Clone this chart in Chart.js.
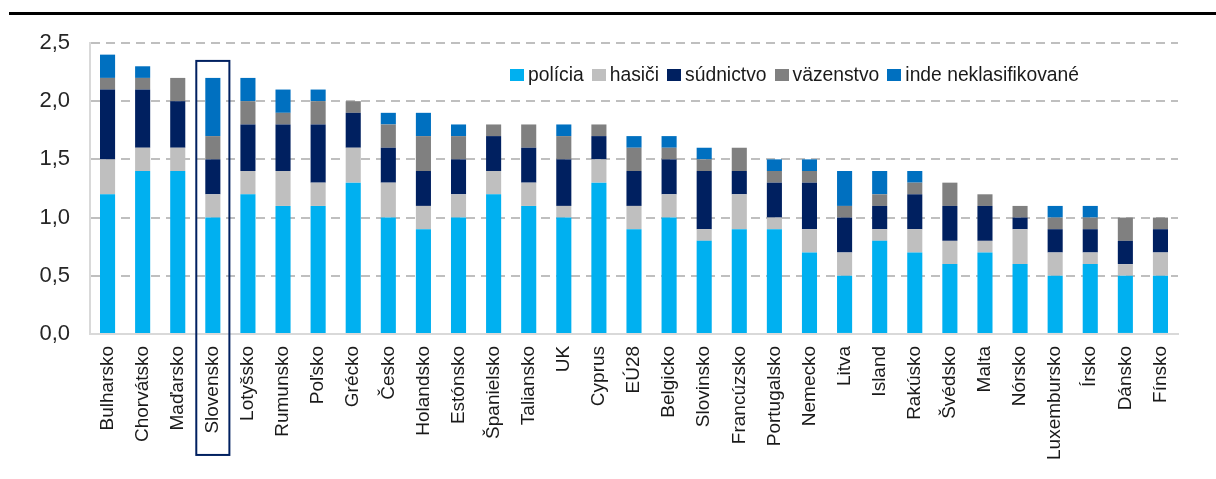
<!DOCTYPE html>
<html>
<head>
<meta charset="utf-8">
<script src="https://cdn.jsdelivr.net/npm/chart.js@4"></script>
<style>
  body { margin: 0; background: #fff; }
  #wrap { position: relative; width: 1216px; height: 479px; overflow: hidden; }
  #topLine { position: absolute; left: 9px; right: 0; top: 12px; height: 3px; background: #000; }
  #chart { position: absolute; left: 0; top: 0; }
  #legend { position: absolute; left: 510px; top: 64px; display: flex; align-items: center;
            font-family: "Liberation Sans", Arial, sans-serif; font-size: 19.3px; color: #1a1a1a; white-space: nowrap; }
  #legend .item { display: flex; align-items: center; margin-right: 8px; }
  #legend .box { width: 14px; height: 12px; margin-right: 4px; }
</style>
</head>
<body>
<div id="wrap">
  <canvas id="chart" width="1216" height="479"></canvas>
  <div id="topLine"></div>
  <div id="legend"></div>
</div>
<script>
// Categories (countries) and stacked series values
const categories = ['Bulharsko', 'Chorvátsko', 'Maďarsko', 'Slovensko', 'Lotyšsko', 'Rumunsko', 'Poľsko',
  'Grécko', 'Česko', 'Holandsko', 'Estónsko', 'Španielsko', 'Taliansko', 'UK', 'Cyprus', 'EÚ28',
  'Belgicko', 'Slovinsko', 'Francúzsko', 'Portugalsko', 'Nemecko', 'Litva', 'Island', 'Rakúsko',
  'Švédsko', 'Malta', 'Nórsko', 'Luxembursko', 'Írsko', 'Dánsko', 'Fínsko'];

const policia   = [1.2, 1.4, 1.4, 1.0, 1.2, 1.1, 1.1, 1.3, 1.0, 0.9, 1.0, 1.2, 1.1, 1.0, 1.3, 0.9, 1.0, 0.8, 0.9, 0.9, 0.7, 0.5, 0.8, 0.7, 0.6, 0.7, 0.6, 0.5, 0.6, 0.5, 0.5];
const hasici    = [0.3, 0.2, 0.2, 0.2, 0.2, 0.3, 0.2, 0.3, 0.3, 0.2, 0.2, 0.2, 0.2, 0.1, 0.2, 0.2, 0.2, 0.1, 0.3, 0.1, 0.2, 0.2, 0.1, 0.2, 0.2, 0.1, 0.3, 0.2, 0.1, 0.1, 0.2];
const sudnictvo = [0.6, 0.5, 0.4, 0.3, 0.4, 0.4, 0.5, 0.3, 0.3, 0.3, 0.3, 0.3, 0.3, 0.4, 0.2, 0.3, 0.3, 0.5, 0.2, 0.3, 0.4, 0.3, 0.2, 0.3, 0.3, 0.3, 0.1, 0.2, 0.2, 0.2, 0.2];
const vazenstvo = [0.1, 0.1, 0.2, 0.2, 0.2, 0.1, 0.2, 0.1, 0.2, 0.3, 0.2, 0.1, 0.2, 0.2, 0.1, 0.2, 0.1, 0.1, 0.2, 0.1, 0.1, 0.1, 0.1, 0.1, 0.2, 0.1, 0.1, 0.1, 0.1, 0.2, 0.1];
const inde      = [0.2, 0.1, 0.0, 0.5, 0.2, 0.2, 0.1, 0.0, 0.1, 0.2, 0.1, 0.0, 0.0, 0.1, 0.0, 0.1, 0.1, 0.1, 0.0, 0.1, 0.1, 0.3, 0.2, 0.1, 0.0, 0.0, 0.0, 0.1, 0.1, 0.0, 0.0];

const seriesNames = ['polícia', 'hasiči', 'súdnictvo', 'väzenstvo', 'inde neklasifikované'];
const yTicks = [0, 0.5, 1.0, 1.5, 2.0, 2.5];
const highlighted = 'Slovensko';

const colors = ['#00B0F0', '#BFBFBF', '#002060', '#808080', '#0070C0'];
const seriesData = [policia, hasici, sudnictvo, vazenstvo, inde];

const datasets = seriesNames.map((name, i) => ({
  label: name,
  data: seriesData[i],
  backgroundColor: colors[i],
  borderWidth: 0,
  barPercentage: 0.43,
  categoryPercentage: 1.0,
  stack: 'a'
}));

// Frame around the highlighted country (bar + label)
const highlightBox = {
  id: 'highlightBox',
  afterDraw(chart) {
    const idx = categories.indexOf(highlighted);
    if (idx < 0) return;
    const x = chart.scales.x;
    const y = chart.scales.y;
    const total = seriesData.reduce((s, arr) => s + arr[idx], 0);
    const cx = x.getPixelForValue(idx);
    const half = (x.width / categories.length) / 2 - 1;
    const top = y.getPixelForValue(total) - 17;
    const bottom = chart.chartArea.bottom + 121;
    const ctx = chart.ctx;
    ctx.save();
    ctx.strokeStyle = '#002060';
    ctx.lineWidth = 2;
    ctx.strokeRect(cx - half, top, half * 2, bottom - top);
    ctx.restore();
  }
};

const ctx = document.getElementById('chart').getContext('2d');
const chart = new Chart(ctx, {
  type: 'bar',
  data: { labels: categories, datasets: datasets },
  options: {
    responsive: false,
    animation: false,
    layout: { padding: { top: 43, right: 38, bottom: 7, left: 0 } },
    plugins: {
      legend: { display: false },
      tooltip: { enabled: false }
    },
    scales: {
      x: {
        stacked: true,
        grid: { display: false, drawTicks: false },
        border: { color: '#D9D9D9', width: 2 },
        ticks: {
          autoSkip: false,
          maxRotation: 90,
          minRotation: 90,
          padding: 12,
          color: '#1a1a1a',
          font: { family: '"Liberation Sans", Arial, sans-serif', size: 19 }
        }
      },
      y: {
        stacked: true,
        min: 0,
        max: 2.5,
        afterBuildTicks(scale) {
          scale.ticks = yTicks.map(v => ({ value: v }));
        },
        afterFit(scale) { scale.width = 90; },
        grid: {
          color: '#BFBFBF',
          lineWidth: 2,
          drawTicks: false
        },
        border: { color: '#D9D9D9', width: 2, dash: [9, 6] },
        ticks: {
          padding: 20,
          color: '#262626',
          font: { family: '"Liberation Sans Narrow", "Arial Narrow", "Liberation Sans", sans-serif', size: 22 },
          callback: v => v.toFixed(1).replace('.', ',')
        }
      }
    }
  },
  plugins: [highlightBox]
});

// HTML legend built from datasets
const legendEl = document.getElementById('legend');
datasets.forEach(ds => {
  const item = document.createElement('div');
  item.className = 'item';
  const box = document.createElement('span');
  box.className = 'box';
  box.style.background = ds.backgroundColor;
  const txt = document.createElement('span');
  txt.textContent = ds.label;
  item.appendChild(box);
  item.appendChild(txt);
  legendEl.appendChild(item);
});
</script>
</body>
</html>
